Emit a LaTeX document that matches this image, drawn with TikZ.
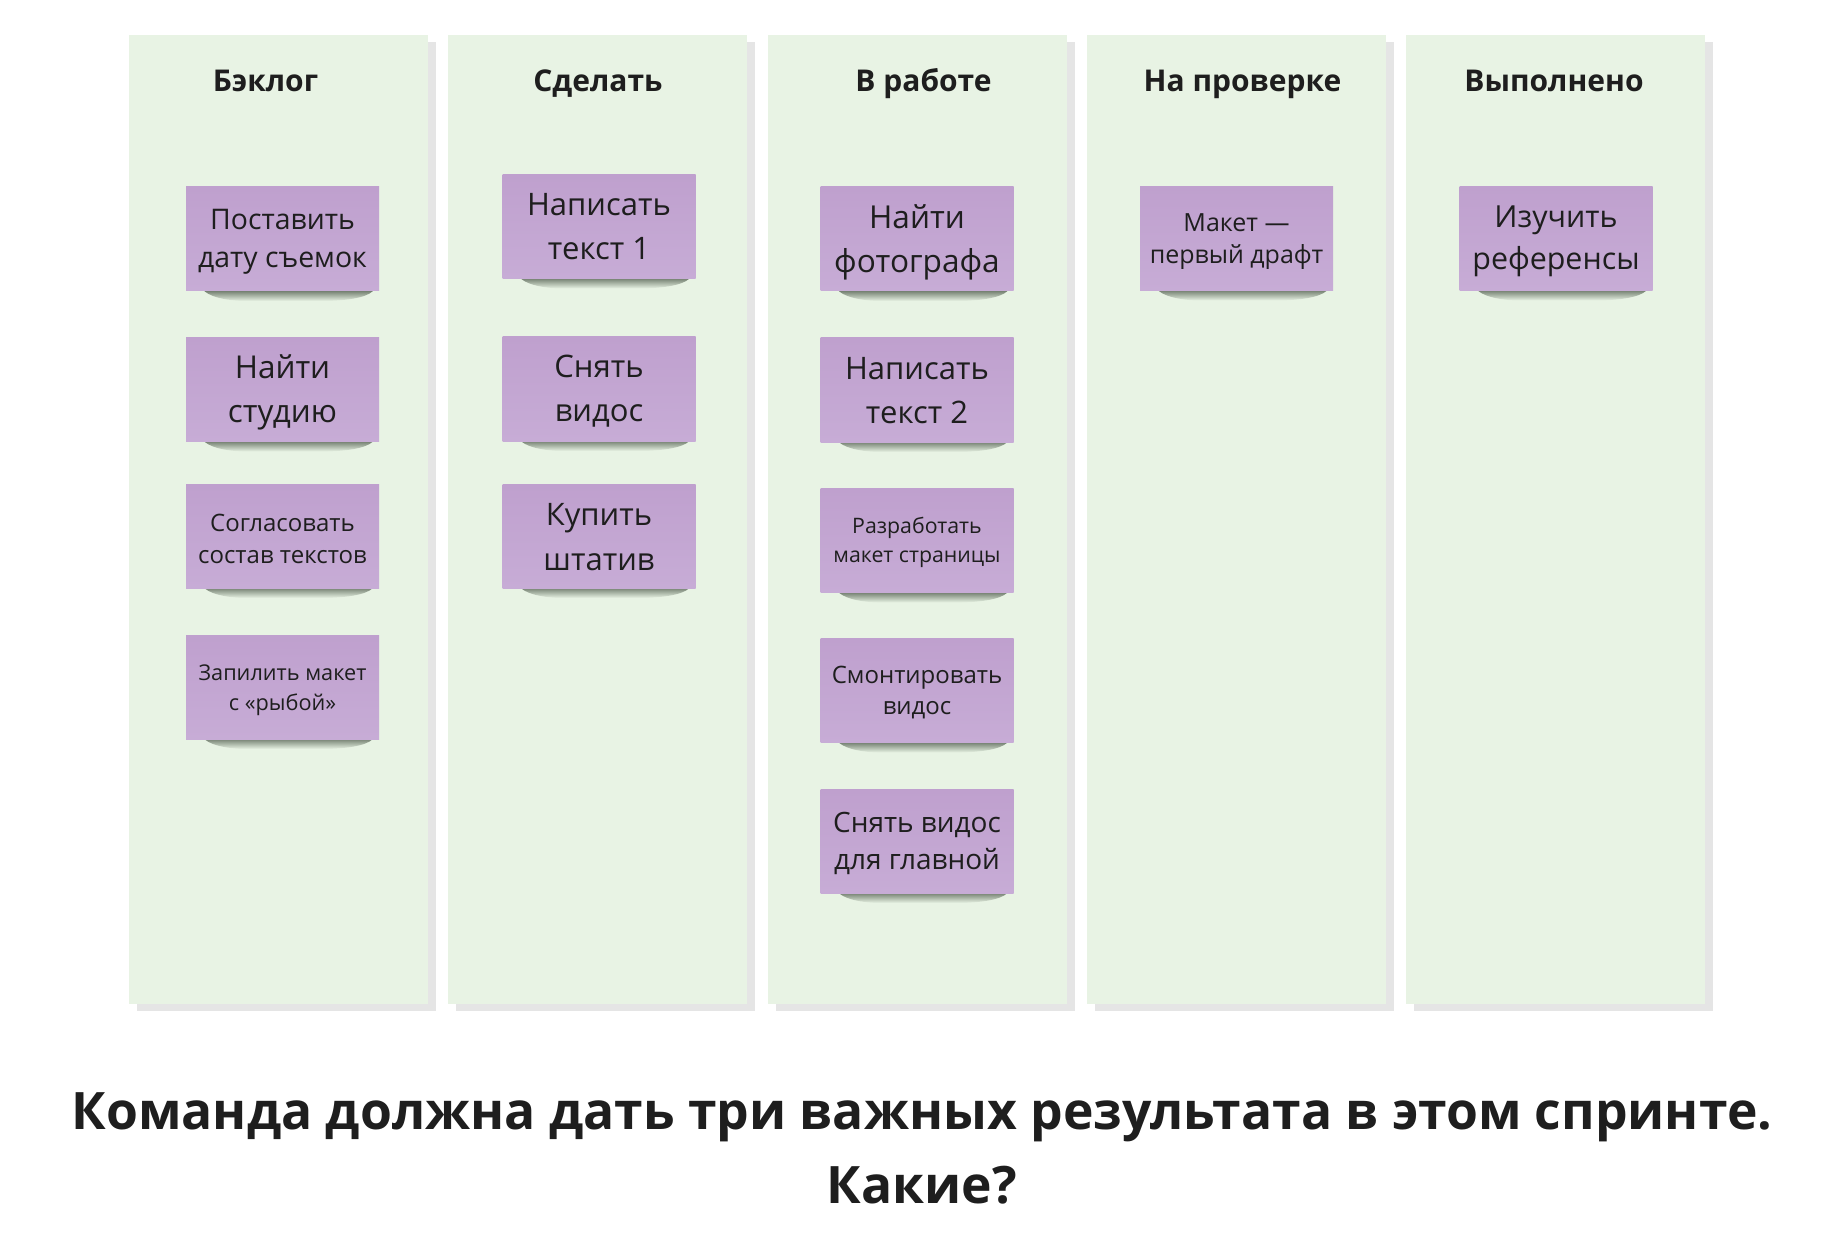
\documentclass[tikz,border=0pt]{standalone}
\usepackage{fontspec}
\setmainfont{Open Sans}
\definecolor{colfill}{HTML}{E8F3E4}
\definecolor{colshadow}{HTML}{E5E5E5}
\definecolor{notetop}{HTML}{BFA0CE}
\definecolor{notebot}{HTML}{C7ACD6}
\definecolor{dropcol}{HTML}{5F6B5C}
\definecolor{inkcol}{HTML}{1E1E1E}
% sticker: [text shift], name, x, y, font size, baselineskip, text
\newcommand{\stickynote}[7][3]{%
  \shade[top color=dropcol, bottom color=colfill]
    (#3-80,#4+50) -- (#3+92,#4+50)
    .. controls (#3+88,#4+57) and (#3+72,#4+61) .. (#3+45,#4+62)
    -- (#3-40,#4+62)
    .. controls (#3-60,#4+61) and (#3-75,#4+57) .. cycle;
  \node[note] (#2) at (#3,#4) {};
  \node[notetext, font=\fontsize{#5}{#6}\selectfont] (#2-text) at ([yshift=-#1pt]#2.center) {#7};
}

\begin{document}
\begin{tikzpicture}[x=1pt,y=-1pt,
  note/.style={rectangle, inner sep=0pt, minimum width=193pt, minimum height=104pt,
    top color=notetop, bottom color=notebot},
  notetext/.style={inner sep=0pt, align=center, text=inkcol},
  header/.style={anchor=base, text=inkcol, font=\fontsize{30}{36}\selectfont\bfseries},
  caption/.style={anchor=base, text=inkcol, font=\fontsize{51.6}{60}\selectfont\bfseries}]
\path[use as bounding box, fill=white] (0,0) rectangle (1844,1246);

% columns
\foreach \i in {0,...,4} {
  \fill[colshadow] (137+319.25*\i,42) rectangle (436+319.25*\i,1011);
  \fill[colfill] (129+319.25*\i,35) rectangle (428+319.25*\i,1004);
}

\node[header] (backlog) at (265.5,92) {Бэклог};
\node[header] (todo) at (598,92) {Сделать};
\node[header] (inwork) at (923.5,92) {В работе};
\node[header] (review) at (1242.5,92) {На проверке};
\node[header] (done) at (1554,92) {Выполнено};

% backlog
\stickynote{b1}{282.5}{239}{28.4}{38}{Поставить\\дату съемок}
\stickynote{b2}{282.5}{389.5}{31.5}{44}{Найти\\студию}
\stickynote{b3}{282.5}{536}{24}{32}{Согласовать\\состав текстов}
\stickynote{b4}{282.5}{687}{21.7}{30}{Запилить макет\\с «рыбой»}
% to do
\stickynote[0]{t1}{599}{226.5}{31}{44.5}{Написать\\текст 1}
\stickynote[2]{t2}{599}{389}{31}{44.5}{Снять\\видос}
\stickynote[1]{t3}{599}{536}{31}{44.5}{Купить\\штатив}
% in work
\stickynote{w1}{917}{239}{31.6}{44}{Найти\\фотографа}
\stickynote[1]{w2}{917}{390}{31}{44}{Написать\\текст 2}
\stickynote[2]{w3}{917}{540.5}{21.3}{29}{Разработать\\макет страницы}
\stickynote[2]{w4}{917}{690.5}{24}{31}{Смонтировать\\видос}
\stickynote[2]{w5}{917}{841}{28}{37}{Снять видос\\для главной}
% review, done
\stickynote{r1}{1236.5}{238.5}{25}{32}{Макет —\\первый драфт}
\stickynote{d1}{1556}{238.5}{30.4}{42}{Изучить\\референсы}

\node[caption] (question) at (922,1129.5) {Команда должна дать три важных результата в этом спринте.};
\node[caption] (which) at (922,1203) {Какие?};
\end{tikzpicture}
\end{document}
